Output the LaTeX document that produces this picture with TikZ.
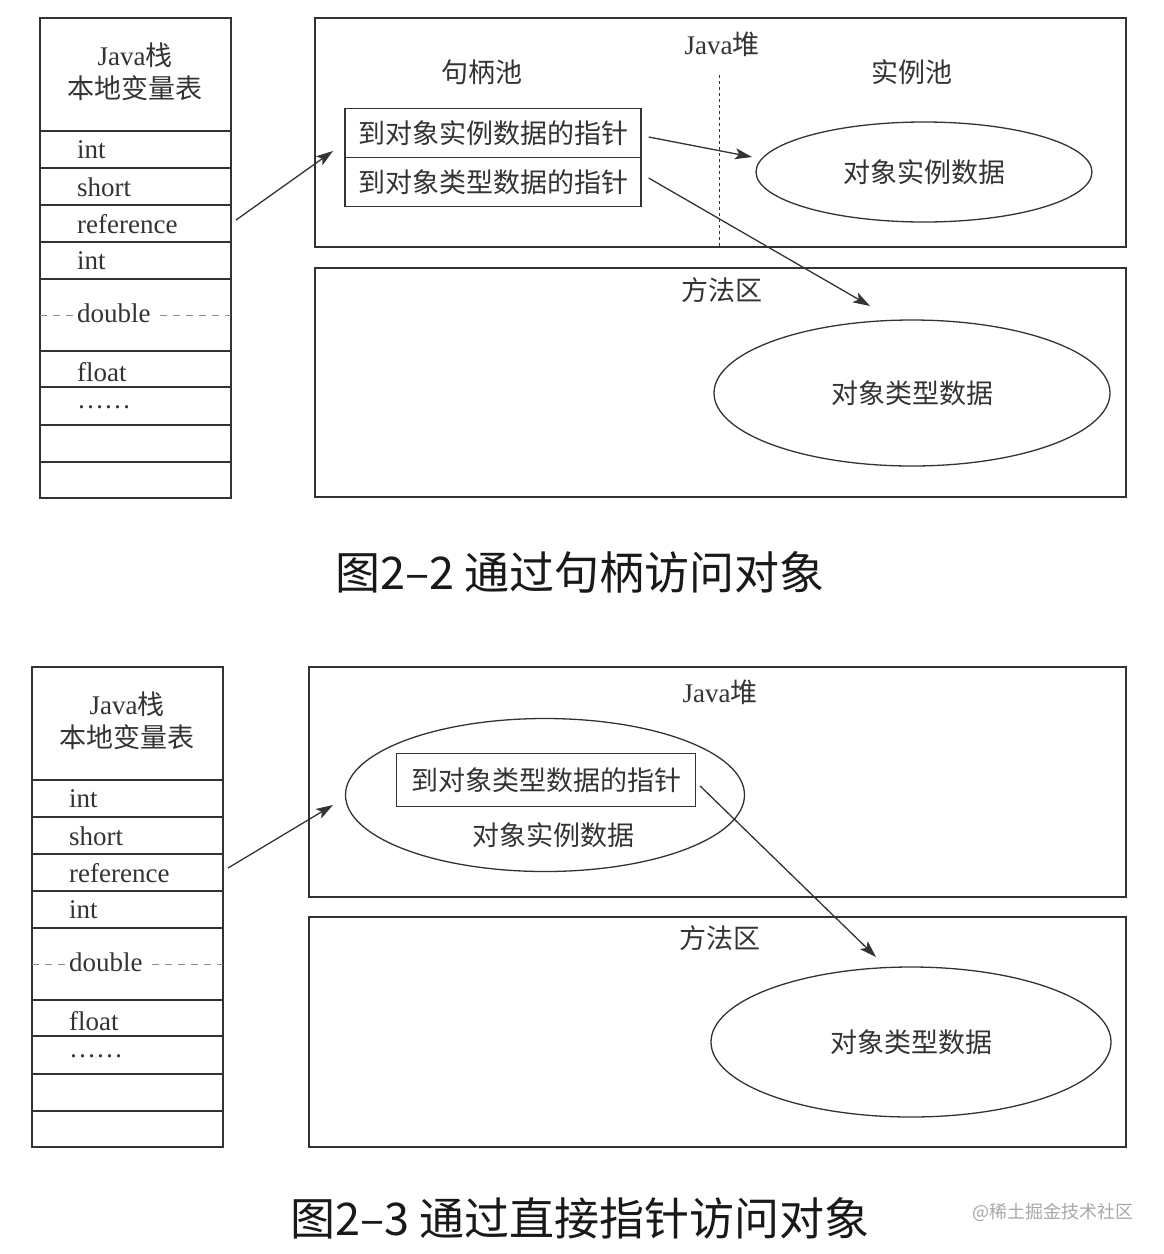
\documentclass[tikz,border=0pt]{standalone}
\usepackage{fontspec}
\setmainfont{Liberation Serif}
\newfontfamily\cjk{Noto Sans CJK SC}
\usetikzlibrary{shapes.geometric,arrows.meta}
\definecolor{ink}{HTML}{333333}
\definecolor{faint}{HTML}{8C8C8C}
\definecolor{wmark}{HTML}{A8A8A8}
\tikzset{
  box/.style={draw=ink,line width=1.3pt},
  cell/.style={anchor=west,inner sep=0pt,text=ink,font=\fontsize{27}{33}\selectfont},
  lbl/.style={inner sep=0pt,text=ink,align=center,font=\fontsize{27}{33}\selectfont\cjk},
  ptrbox/.style={box,minimum width=296pt,minimum height=49pt,inner sep=0pt,text=ink,font=\fontsize{27}{33}\selectfont\cjk},
  blob/.style={box,ellipse,inner sep=0pt,text=ink,font=\fontsize{27}{33}\selectfont\cjk},
  link/.style={draw=ink,line width=1.3pt,-{Stealth[length=17pt,width=11pt,inset=4pt]}},
  caption/.style={inner sep=0pt,text=black!90,font=\fontsize{45}{52}\selectfont\cjk}
}
\begin{document}
\begin{tikzpicture}[x=1pt,y=-1pt]
  \useasboundingbox[fill=white] (0,0) rectangle (1164,1254);
  % the two local variable tables
  \foreach \dx/\dy/\p in {0/0/a,-8/649/b}{
    \begin{scope}[shift={(\dx,\dy)}]
      \draw[box] (40,18) rectangle (231,498);
      \foreach \y in {131,168,205,242,279,351,387,425,462}
        \draw[box] (40,\y) -- (231,\y);
      \draw[faint,line width=1pt,dash pattern=on 7pt off 6pt] (40,315) -- (76,315);
      \draw[faint,line width=1pt,dash pattern=on 7pt off 6pt] (160,315) -- (231,315);
      \node[lbl] (\p-title) at (135,72) {{\rmfamily Java}栈\\本地变量表};
      \foreach \y/\t/\n in {150/int/i1,187/short/s,224/reference/r,261/int/i2,313/double/d,372/float/f,407/……/e}
        \node[cell] (\p-\n) at (77,\y) {\t};
    \end{scope}
  }

  % handle pool version
  \draw[box] (315,18) rectangle (1126,247);
  \draw[box] (315,268) rectangle (1126,497);
  \draw[ink,line width=1pt,dashed] (719,75) -- (719,247);
  \node[lbl] (heapa) at (722,44) {{\rmfamily Java}堆};
  \node[lbl] (pool) at (482,72) {句柄池};
  \node[lbl] (inst) at (912,72) {实例池};
  \node[lbl] (methoda) at (722,290) {方法区};
  \node[ptrbox] (ptrinst) at (493,133) {到对象实例数据的指针};
  \node[ptrbox] (ptrtype) at (493,182) {到对象类型数据的指针};
  \node[blob,minimum width=336pt,minimum height=100pt] (objinst) at (924,172) {对象实例数据};
  \node[blob,minimum width=396pt,minimum height=146pt] (objtypea) at (912,393) {对象类型数据};
  \coordinate (toptr) at (333,151);
  \coordinate (toinst) at (752,157);
  \coordinate (totypea) at (870,306);
  \draw[link] ([xshift=5pt,yshift=4pt]a-r.east -| 231,0) -- (toptr);
  \draw[link] ([shift={(7,4)}]ptrinst.east) -- (toinst);
  \draw[link] ([shift={(7,-4)}]ptrtype.east) -- (totypea);
  \node[caption] (capa) at (580,572) {图2–2 通过句柄访问对象};

  % direct pointer version
  \draw[box] (309,667) rectangle (1126,897);
  \draw[box] (309,917) rectangle (1126,1147);
  \node[lbl] (heapb) at (720,692) {{\rmfamily Java}堆};
  \node[lbl] (methodb) at (720,938) {方法区};
  \node[blob,minimum width=399pt,minimum height=153pt] (objb) at (545,795) {};
  \node[ptrbox,minimum width=299pt,minimum height=53pt] (ptrtypeb) at (546,780) {到对象类型数据的指针};
  \node[lbl] (instb) at (553,835) {对象实例数据};
  \node[blob,minimum width=400pt,minimum height=150pt] (objtypeb) at (911,1042) {对象类型数据};
  \coordinate (toobj) at (333,805);
  \coordinate (totypeb) at (876,957);
  \draw[link] (228,868) -- (toobj);
  \draw[link] ([shift={(4,6)}]ptrtypeb.east) -- (totypeb);
  \node[caption] (capb) at (580,1218) {图2–3 通过直接指针访问对象};
  \node[inner sep=0pt,text=wmark,font=\fontsize{18}{20}\selectfont\cjk] (wm) at (1053,1212) {@稀土掘金技术社区};
\end{tikzpicture}
\end{document}
